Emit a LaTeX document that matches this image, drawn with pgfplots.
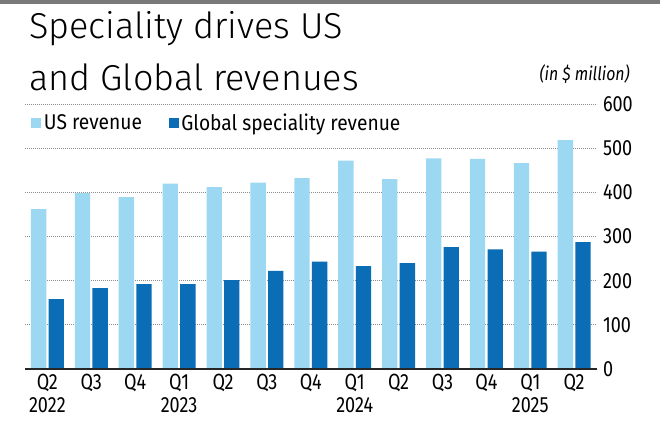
\documentclass[border=0pt]{standalone}
\usepackage{pgfplots}
\pgfplotsset{compat=1.18}
\usepackage{fontspec}
\setmainfont{Fira Sans}
\newfontfamily\tickf[FakeStretch=0.82]{Fira Sans}
\newfontfamily\legf[FakeStretch=0.90]{Fira Sans}
\newfontfamily\titlef[UprightFont={* Light}]{Fira Sans}
\newfontfamily\unitf[FakeStretch=0.85]{Fira Sans}
\definecolor{usblue}{HTML}{9DD8F3}
\definecolor{glblue}{HTML}{0A6DB5}
\definecolor{gridgray}{HTML}{8C8C8C}
\begin{document}
\begin{tikzpicture}
\path[use as bounding box] (0,0) rectangle (495pt,-328.5pt);
\fill[white] (0,0) rectangle (495pt,-328.5pt);
\fill[gray!95!black] (0,0) rectangle (495pt,-3pt);
\node[anchor=base west, inner sep=0pt, font=\titlef\fontsize{27}{30}\selectfont] at (21.75pt,-29.25pt) {Speciality drives US};
\node[anchor=base west, inner sep=0pt, font=\titlef\fontsize{27}{30}\selectfont] at (21.75pt,-68.25pt) {and Global revenues};
\node[anchor=base east, inner sep=0pt, font=\unitf\itshape\fontsize{14}{16}\selectfont] at (472.5pt,-60.5pt) {(in \$ million)};
\begin{axis}[
  at={(18.75pt,-276.75pt)}, anchor=south west,
  scale only axis, width=429pt, height=198.75pt,
  xmin=-0.51, xmax=12.52, ymin=0, ymax=600,
  axis line style={draw=none},
  ybar,
  xtick={0,...,12},
  xticklabels={{Q2\\2022},Q3,Q4,{Q1\\2023},Q2,Q3,Q4,{Q1\\2024},Q2,Q3,Q4,{Q1\\2025},Q2},
  xticklabel style={font=\tickf\fontsize{16.5}{17.25}\selectfont, align=center, anchor=north, yshift=0pt},
  ytick={0,100,...,600},
  yticklabel pos=right,
  yticklabel style={font=\tickf\fontsize{16.5}{17}\selectfont, anchor=west, xshift=1pt},
  /pgf/number format/assume math mode=true,
  major tick length=0pt,
  ymajorgrids,
  grid style={gridgray, line width=0.6pt, dash pattern=on 0.6pt off 0.9pt},
  legend columns=2,
  legend style={at={(axis cs:-0.51,557)}, anchor=west, xshift=4.5pt, draw=none, fill=none,
    font=\legf\fontsize{16}{18}\selectfont, inner xsep=0pt, inner ysep=0pt,
    /tikz/every odd column/.style={column sep=0pt},
    /tikz/every even column/.style={column sep=18pt}},
  legend image code/.code={\fill[#1] (0pt,-3.75pt) rectangle (7.5pt,3.75pt);},
  bar width=11.5pt,
]
\addplot[fill=usblue, draw=none, bar shift=-6.6pt] coordinates {
(0,362) (1,398) (2,389) (3,420) (4,412) (5,422) (6,432) (7,472) (8,430) (9,477) (10,476) (11,466) (12,518)};
\addlegendentry{US revenue}
\addplot[fill=glblue, draw=none, bar shift=6.6pt] coordinates {
(0,158) (1,183) (2,192) (3,192) (4,201) (5,222) (6,243) (7,233) (8,240) (9,276) (10,271) (11,266) (12,287)};
\addlegendentry{Global speciality revenue}
\draw[black!85, line width=1pt] (rel axis cs:0,0) -- (rel axis cs:1,0);
\end{axis}
\end{tikzpicture}
\end{document}
